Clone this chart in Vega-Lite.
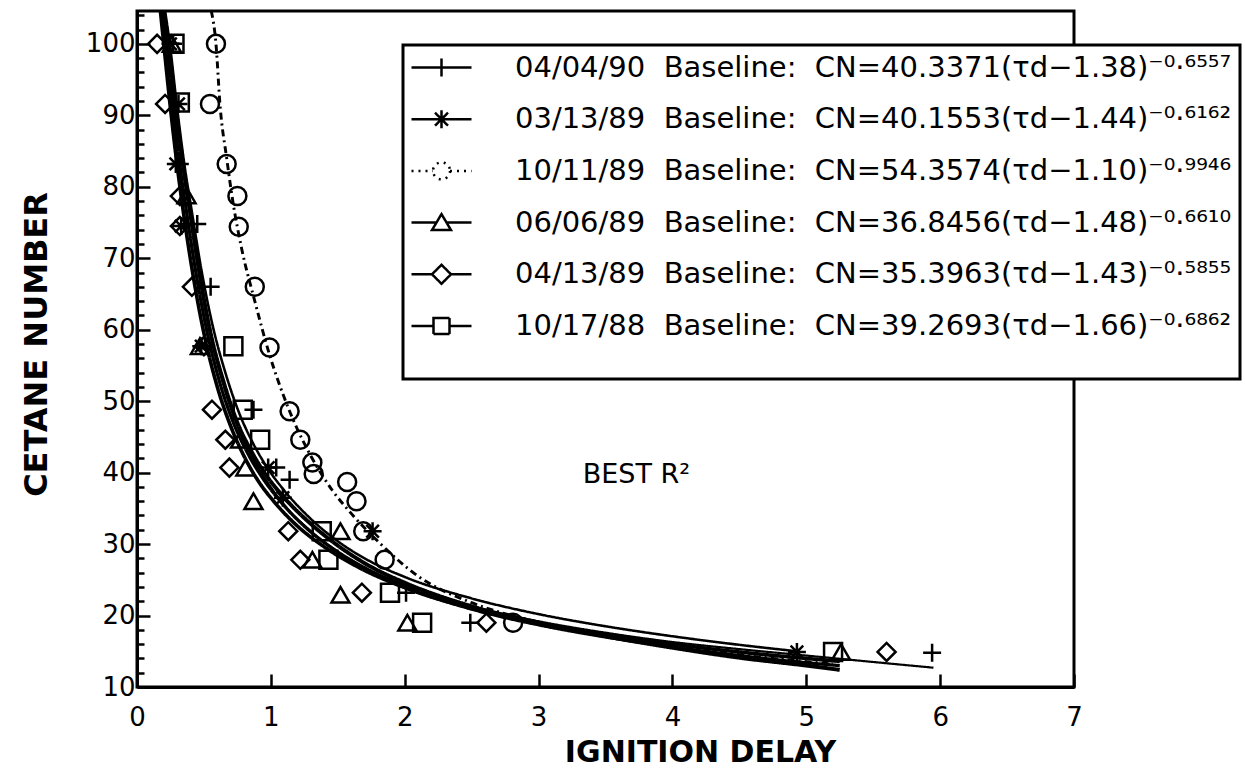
{
  "$schema": "https://vega.github.io/schema/vega-lite/v6.json",
  "autosize": {"type": "none"},
  "padding": {"left": 137, "top": 11, "right": 171, "bottom": 83},
  "width": 937,
  "height": 676,
  "background": "white",
  "datasets": {
    "curves": [
      {"series": "04/04/90", "x": 0.20, "y": 104.6}, {"series": "04/04/90", "x": 0.23, "y": 100}, {"series": "04/04/90", "x": 0.29, "y": 91}, {"series": "04/04/90", "x": 0.34, "y": 83}, {"series": "04/04/90", "x": 0.40, "y": 76}, {"series": "04/04/90", "x": 0.47, "y": 67.5}, {"series": "04/04/90", "x": 0.55, "y": 59.5}, {"series": "04/04/90", "x": 0.65, "y": 52}, {"series": "04/04/90", "x": 0.75, "y": 46.5}, {"series": "04/04/90", "x": 0.86, "y": 42.2}, {"series": "04/04/90", "x": 0.97, "y": 38.8}, {"series": "04/04/90", "x": 1.1, "y": 35.5}, {"series": "04/04/90", "x": 1.3, "y": 31.8}, {"series": "04/04/90", "x": 1.5, "y": 29}, {"series": "04/04/90", "x": 1.75, "y": 26.3}, {"series": "04/04/90", "x": 2.0, "y": 24.3}, {"series": "04/04/90", "x": 2.5, "y": 21.3}, {"series": "04/04/90", "x": 3.0, "y": 19.2}, {"series": "04/04/90", "x": 3.5, "y": 17.6}, {"series": "04/04/90", "x": 4.0, "y": 16.3}, {"series": "04/04/90", "x": 4.5, "y": 15.3}, {"series": "04/04/90", "x": 5.0, "y": 14.4}, {"series": "04/04/90", "x": 5.5, "y": 13.5}, {"series": "04/04/90", "x": 5.95, "y": 12.7},
      {"series": "03/13/89", "x": 0.21, "y": 104.6}, {"series": "03/13/89", "x": 0.245, "y": 100}, {"series": "03/13/89", "x": 0.30, "y": 91}, {"series": "03/13/89", "x": 0.355, "y": 83}, {"series": "03/13/89", "x": 0.41, "y": 76.5}, {"series": "03/13/89", "x": 0.48, "y": 68.5}, {"series": "03/13/89", "x": 0.56, "y": 61}, {"series": "03/13/89", "x": 0.66, "y": 54}, {"series": "03/13/89", "x": 0.76, "y": 48.5}, {"series": "03/13/89", "x": 0.87, "y": 44}, {"series": "03/13/89", "x": 0.98, "y": 40.5}, {"series": "03/13/89", "x": 1.1, "y": 37.5}, {"series": "03/13/89", "x": 1.3, "y": 33.5}, {"series": "03/13/89", "x": 1.5, "y": 30.4}, {"series": "03/13/89", "x": 1.75, "y": 27.5}, {"series": "03/13/89", "x": 2.0, "y": 25.4}, {"series": "03/13/89", "x": 2.5, "y": 22.4}, {"series": "03/13/89", "x": 3.0, "y": 20.2}, {"series": "03/13/89", "x": 3.5, "y": 18.5}, {"series": "03/13/89", "x": 4.0, "y": 17.1}, {"series": "03/13/89", "x": 4.5, "y": 15.9}, {"series": "03/13/89", "x": 4.93, "y": 15.0},
      {"series": "10/11/89", "x": 0.555, "y": 104.6}, {"series": "10/11/89", "x": 0.59, "y": 100}, {"series": "10/11/89", "x": 0.62, "y": 91.5}, {"series": "10/11/89", "x": 0.67, "y": 84}, {"series": "10/11/89", "x": 0.72, "y": 77.5}, {"series": "10/11/89", "x": 0.78, "y": 71.5}, {"series": "10/11/89", "x": 0.88, "y": 64}, {"series": "10/11/89", "x": 0.99, "y": 56.5}, {"series": "10/11/89", "x": 1.1, "y": 50.5}, {"series": "10/11/89", "x": 1.2, "y": 46}, {"series": "10/11/89", "x": 1.3, "y": 42.3}, {"series": "10/11/89", "x": 1.46, "y": 37.5}, {"series": "10/11/89", "x": 1.6, "y": 34.3}, {"series": "10/11/89", "x": 1.81, "y": 30.2}, {"series": "10/11/89", "x": 2.1, "y": 25.5}, {"series": "10/11/89", "x": 2.5, "y": 21.8}, {"series": "10/11/89", "x": 2.9, "y": 19.5}, {"series": "10/11/89", "x": 3.5, "y": 17.2}, {"series": "10/11/89", "x": 4.2, "y": 15.2}, {"series": "10/11/89", "x": 5.2, "y": 13.2},
      {"series": "06/06/89", "x": 0.19, "y": 104.6}, {"series": "06/06/89", "x": 0.22, "y": 100}, {"series": "06/06/89", "x": 0.27, "y": 91}, {"series": "06/06/89", "x": 0.32, "y": 83}, {"series": "06/06/89", "x": 0.37, "y": 76.5}, {"series": "06/06/89", "x": 0.44, "y": 68}, {"series": "06/06/89", "x": 0.52, "y": 60}, {"series": "06/06/89", "x": 0.62, "y": 52.5}, {"series": "06/06/89", "x": 0.72, "y": 47}, {"series": "06/06/89", "x": 0.83, "y": 42.6}, {"series": "06/06/89", "x": 0.94, "y": 39.2}, {"series": "06/06/89", "x": 1.07, "y": 36}, {"series": "06/06/89", "x": 1.25, "y": 32.5}, {"series": "06/06/89", "x": 1.45, "y": 29.5}, {"series": "06/06/89", "x": 1.7, "y": 26.6}, {"series": "06/06/89", "x": 2.0, "y": 24}, {"series": "06/06/89", "x": 2.5, "y": 20.9}, {"series": "06/06/89", "x": 3.0, "y": 18.7}, {"series": "06/06/89", "x": 3.5, "y": 17}, {"series": "06/06/89", "x": 4.0, "y": 15.6}, {"series": "06/06/89", "x": 4.5, "y": 14.4}, {"series": "06/06/89", "x": 5.0, "y": 13.4}, {"series": "06/06/89", "x": 5.25, "y": 13.0},
      {"series": "04/13/89", "x": 0.175, "y": 104.6}, {"series": "04/13/89", "x": 0.2, "y": 100}, {"series": "04/13/89", "x": 0.25, "y": 91}, {"series": "04/13/89", "x": 0.3, "y": 83}, {"series": "04/13/89", "x": 0.35, "y": 76}, {"series": "04/13/89", "x": 0.42, "y": 67.5}, {"series": "04/13/89", "x": 0.5, "y": 59.5}, {"series": "04/13/89", "x": 0.6, "y": 52}, {"series": "04/13/89", "x": 0.7, "y": 46.5}, {"series": "04/13/89", "x": 0.8, "y": 42.3}, {"series": "04/13/89", "x": 0.9, "y": 39}, {"series": "04/13/89", "x": 1.03, "y": 35.8}, {"series": "04/13/89", "x": 1.2, "y": 32.5}, {"series": "04/13/89", "x": 1.4, "y": 29.6}, {"series": "04/13/89", "x": 1.65, "y": 26.8}, {"series": "04/13/89", "x": 2.0, "y": 23.9}, {"series": "04/13/89", "x": 2.5, "y": 21}, {"series": "04/13/89", "x": 3.0, "y": 18.9}, {"series": "04/13/89", "x": 3.5, "y": 17.3}, {"series": "04/13/89", "x": 4.0, "y": 16}, {"series": "04/13/89", "x": 4.5, "y": 14.9}, {"series": "04/13/89", "x": 5.0, "y": 14}, {"series": "04/13/89", "x": 5.25, "y": 13.6},
      {"series": "10/17/88", "x": 0.2, "y": 104.6}, {"series": "10/17/88", "x": 0.235, "y": 100}, {"series": "10/17/88", "x": 0.29, "y": 91}, {"series": "10/17/88", "x": 0.345, "y": 83}, {"series": "10/17/88", "x": 0.4, "y": 76}, {"series": "10/17/88", "x": 0.47, "y": 67.5}, {"series": "10/17/88", "x": 0.55, "y": 59.5}, {"series": "10/17/88", "x": 0.65, "y": 52.5}, {"series": "10/17/88", "x": 0.75, "y": 47}, {"series": "10/17/88", "x": 0.86, "y": 42.8}, {"series": "10/17/88", "x": 0.97, "y": 39.5}, {"series": "10/17/88", "x": 1.1, "y": 36.5}, {"series": "10/17/88", "x": 1.3, "y": 32.8}, {"series": "10/17/88", "x": 1.5, "y": 29.8}, {"series": "10/17/88", "x": 1.75, "y": 26.8}, {"series": "10/17/88", "x": 2.0, "y": 24.6}, {"series": "10/17/88", "x": 2.5, "y": 21.3}, {"series": "10/17/88", "x": 3.0, "y": 19}, {"series": "10/17/88", "x": 3.5, "y": 17.1}, {"series": "10/17/88", "x": 4.0, "y": 15.5}, {"series": "10/17/88", "x": 4.5, "y": 14.1}, {"series": "10/17/88", "x": 5.0, "y": 13}, {"series": "10/17/88", "x": 5.25, "y": 12.4}
    ],
    "points": [
      {"series": "04/04/90", "x": 0.27, "y": 100}, {"series": "04/04/90", "x": 0.32, "y": 83.2}, {"series": "04/04/90", "x": 0.45, "y": 74.8}, {"series": "04/04/90", "x": 0.55, "y": 66}, {"series": "04/04/90", "x": 0.87, "y": 48.8}, {"series": "04/04/90", "x": 1.04, "y": 40.7}, {"series": "04/04/90", "x": 1.14, "y": 39}, {"series": "04/04/90", "x": 2.01, "y": 23.2}, {"series": "04/04/90", "x": 2.49, "y": 19}, {"series": "04/04/90", "x": 5.94, "y": 14.8},
      {"series": "03/13/89", "x": 0.25, "y": 100}, {"series": "03/13/89", "x": 0.31, "y": 91.6}, {"series": "03/13/89", "x": 0.29, "y": 83.2}, {"series": "03/13/89", "x": 0.33, "y": 74.5}, {"series": "03/13/89", "x": 0.48, "y": 57.7}, {"series": "03/13/89", "x": 0.98, "y": 40.7}, {"series": "03/13/89", "x": 1.09, "y": 36.5}, {"series": "03/13/89", "x": 1.76, "y": 31.8}, {"series": "03/13/89", "x": 4.93, "y": 14.9},
      {"series": "10/11/89", "x": 0.59, "y": 100}, {"series": "10/11/89", "x": 0.545, "y": 91.6}, {"series": "10/11/89", "x": 0.67, "y": 83.2}, {"series": "10/11/89", "x": 0.75, "y": 78.7}, {"series": "10/11/89", "x": 0.76, "y": 74.4}, {"series": "10/11/89", "x": 0.88, "y": 66}, {"series": "10/11/89", "x": 0.99, "y": 57.5}, {"series": "10/11/89", "x": 1.14, "y": 48.6}, {"series": "10/11/89", "x": 1.22, "y": 44.6}, {"series": "10/11/89", "x": 1.31, "y": 41.4}, {"series": "10/11/89", "x": 1.32, "y": 39.8}, {"series": "10/11/89", "x": 1.57, "y": 38.7}, {"series": "10/11/89", "x": 1.64, "y": 36}, {"series": "10/11/89", "x": 1.69, "y": 31.8}, {"series": "10/11/89", "x": 1.85, "y": 27.8}, {"series": "10/11/89", "x": 2.81, "y": 19},
      {"series": "06/06/89", "x": 0.26, "y": 100}, {"series": "06/06/89", "x": 0.37, "y": 78.8}, {"series": "06/06/89", "x": 0.47, "y": 57.7}, {"series": "06/06/89", "x": 0.77, "y": 44.6}, {"series": "06/06/89", "x": 0.81, "y": 40.7}, {"series": "06/06/89", "x": 0.87, "y": 36}, {"series": "06/06/89", "x": 1.52, "y": 31.8}, {"series": "06/06/89", "x": 1.31, "y": 27.8}, {"series": "06/06/89", "x": 1.52, "y": 22.9}, {"series": "06/06/89", "x": 2.02, "y": 19}, {"series": "06/06/89", "x": 5.26, "y": 14.9},
      {"series": "04/13/89", "x": 0.15, "y": 100}, {"series": "04/13/89", "x": 0.21, "y": 91.6}, {"series": "04/13/89", "x": 0.32, "y": 78.7}, {"series": "04/13/89", "x": 0.32, "y": 74.5}, {"series": "04/13/89", "x": 0.41, "y": 66}, {"series": "04/13/89", "x": 0.5, "y": 57.7}, {"series": "04/13/89", "x": 0.56, "y": 48.8}, {"series": "04/13/89", "x": 0.66, "y": 44.6}, {"series": "04/13/89", "x": 0.69, "y": 40.7}, {"series": "04/13/89", "x": 1.13, "y": 31.8}, {"series": "04/13/89", "x": 1.22, "y": 27.8}, {"series": "04/13/89", "x": 1.68, "y": 23.2}, {"series": "04/13/89", "x": 2.61, "y": 19}, {"series": "04/13/89", "x": 5.6, "y": 14.9},
      {"series": "10/17/88", "x": 0.28, "y": 100}, {"series": "10/17/88", "x": 0.32, "y": 91.8}, {"series": "10/17/88", "x": 0.72, "y": 57.7}, {"series": "10/17/88", "x": 0.79, "y": 48.8}, {"series": "10/17/88", "x": 0.92, "y": 44.6}, {"series": "10/17/88", "x": 1.38, "y": 31.8}, {"series": "10/17/88", "x": 1.43, "y": 27.8}, {"series": "10/17/88", "x": 1.89, "y": 23.2}, {"series": "10/17/88", "x": 2.13, "y": 19}, {"series": "10/17/88", "x": 5.2, "y": 14.9}
    ],
    "legendrows": [
      {"label": "04/04/90 \u00a0Baseline: \u00a0CN=40.3371(τd−1.38)⁻⁰·⁶⁵⁵⁷"},
      {"label": "03/13/89 \u00a0Baseline: \u00a0CN=40.1553(τd−1.44)⁻⁰·⁶¹⁶²"},
      {"label": "10/11/89 \u00a0Baseline: \u00a0CN=54.3574(τd−1.10)⁻⁰·⁹⁹⁴⁶"},
      {"label": "06/06/89 \u00a0Baseline: \u00a0CN=36.8456(τd−1.48)⁻⁰·⁶⁶¹⁰"},
      {"label": "04/13/89 \u00a0Baseline: \u00a0CN=35.3963(τd−1.43)⁻⁰·⁵⁸⁵⁵"},
      {"label": "10/17/88 \u00a0Baseline: \u00a0CN=39.2693(τd−1.66)⁻⁰·⁶⁸⁶²"}
    ]
  },
  "layer": [
    {
      "data": {"name": "curves"},
      "mark": {"type": "line", "interpolate": "monotone", "color": "black", "clip": true},
      "encoding": {
        "x": {"field": "x", "type": "quantitative", "scale": {"domain": [0, 7], "nice": false, "zero": false},
          "axis": {"values": [0, 0.5, 1, 1.5, 2, 2.5, 3, 3.5, 4, 4.5, 5, 5.5, 6, 6.5, 7], "tickCount": 100, "format": "d",
            "tickSize": {"condition": {"test": "datum.value % 1 === 0", "value": -13}, "value": -7},
            "labelExpr": "datum.value % 1 === 0 ? datum.label : ''",
            "labelOverlap": false, "labelFlush": false, "labelPadding": 30,
            "title": "IGNITION DELAY", "titleX": 563, "titleY": 74, "titleBaseline": "alphabetic", "titleAlign": "center"}},
        "y": {"field": "y", "type": "quantitative", "scale": {"domain": [10, 104.6], "nice": false, "zero": false},
          "axis": {"values": [10, 12, 14, 16, 18, 20, 22, 24, 26, 28, 30, 32, 34, 36, 38, 40, 42, 44, 46, 48, 50, 52, 54, 56, 58, 60, 62, 64, 66, 68, 70, 72, 74, 76, 78, 80, 82, 84, 86, 88, 90, 92, 94, 96, 98, 100, 102, 104], "tickCount": 100, "format": "d",
            "tickSize": {"condition": {"test": "datum.value % 10 === 0", "value": -13}, "value": -7},
            "labelExpr": "datum.value % 10 === 0 ? datum.label : ''",
            "labelOverlap": false, "labelFlush": false, "labelPadding": 15,
            "title": "CETANE NUMBER", "titleFontSize": 32, "titleX": -91, "titleY": 333, "titleBaseline": "alphabetic", "titleAlign": "center", "titleAngle": -90}},
        "strokeDash": {"field": "series", "type": "nominal",
          "scale": {"domain": ["04/04/90", "03/13/89", "10/11/89", "06/06/89", "04/13/89", "10/17/88"], "range": [[1, 0], [1, 0], [7, 4, 2, 4], [1, 0], [1, 0], [1, 0]]}, "legend": null},
        "strokeWidth": {"field": "series", "type": "nominal",
          "scale": {"domain": ["04/04/90", "03/13/89", "10/11/89", "06/06/89", "04/13/89", "10/17/88"], "range": [2.2, 4, 1.6, 2.2, 2, 3]}, "legend": null}
      }
    },
    {
      "data": {"name": "points"},
      "mark": {"type": "point", "filled": false, "color": "black", "strokeWidth": 2.5, "size": 324, "opacity": 1, "clip": true},
      "encoding": {
        "x": {"field": "x", "type": "quantitative"},
        "y": {"field": "y", "type": "quantitative"},
        "shape": {"field": "series", "type": "nominal",
          "scale": {"domain": ["04/04/90", "03/13/89", "10/11/89", "06/06/89", "04/13/89", "10/17/88"],
            "range": ["M-1,0H1M0,-1V1", "M-1,0H1M0,-1V1M-0.7,-0.7L0.7,0.7M-0.7,0.7L0.7,-0.7", "circle", "triangle-up", "diamond", "square"]},
          "legend": null}
      }
    },
    {
      "data": {"values": [{"label": "BEST R²"}]},
      "mark": {"type": "text", "font": "DejaVu Sans", "fontSize": 27, "color": "black", "align": "left", "baseline": "alphabetic"},
      "encoding": {
        "x": {"datum": 3.33, "type": "quantitative"},
        "y": {"datum": 38.5, "type": "quantitative"},
        "text": {"field": "label"}
      }
    },
    {
      "data": {"name": "legendrows"},
      "transform": [{"filter": "false"}],
      "mark": {"type": "point", "filled": false, "color": "black", "opacity": 1},
      "encoding": {
        "shape": {"field": "label", "type": "nominal",
          "scale": {"domain": [
            "04/04/90 \u00a0Baseline: \u00a0CN=40.3371(τd−1.38)⁻⁰·⁶⁵⁵⁷",
            "03/13/89 \u00a0Baseline: \u00a0CN=40.1553(τd−1.44)⁻⁰·⁶¹⁶²",
            "10/11/89 \u00a0Baseline: \u00a0CN=54.3574(τd−1.10)⁻⁰·⁹⁹⁴⁶",
            "06/06/89 \u00a0Baseline: \u00a0CN=36.8456(τd−1.48)⁻⁰·⁶⁶¹⁰",
            "04/13/89 \u00a0Baseline: \u00a0CN=35.3963(τd−1.43)⁻⁰·⁵⁸⁵⁵",
            "10/17/88 \u00a0Baseline: \u00a0CN=39.2693(τd−1.66)⁻⁰·⁶⁸⁶²"],
            "range": [
              "M-3,0H3M0,-0.9V0.9",
              "M-3,0H3M0,-0.9V0.9M-0.65,-0.65L0.65,0.65M-0.65,0.65L0.65,-0.65",
              "M-3,0H-0.85M0.85,0H3M0.85,0A0.85,0.85,0,1,1,-0.85,0A0.85,0.85,0,1,1,0.85,0",
              "M-3,0H-0.5M0.5,0H3M0,-0.85L0.95,0.75H-0.95Z",
              "M-3,0H-0.95M0.95,0H3M-0.95,0L0,-0.95L0.95,0L0,0.95Z",
              "M-3,0H-0.8M0.8,0H3M-0.8,-0.8H0.8V0.8H-0.8Z"]},
          "legend": {"orient": "none", "legendX": 266, "legendY": 34, "title": " ", "titleOrient": "bottom"}},
        "strokeDash": {"field": "label", "type": "nominal",
          "scale": {"domain": [
            "04/04/90 \u00a0Baseline: \u00a0CN=40.3371(τd−1.38)⁻⁰·⁶⁵⁵⁷",
            "03/13/89 \u00a0Baseline: \u00a0CN=40.1553(τd−1.44)⁻⁰·⁶¹⁶²",
            "10/11/89 \u00a0Baseline: \u00a0CN=54.3574(τd−1.10)⁻⁰·⁹⁹⁴⁶",
            "06/06/89 \u00a0Baseline: \u00a0CN=36.8456(τd−1.48)⁻⁰·⁶⁶¹⁰",
            "04/13/89 \u00a0Baseline: \u00a0CN=35.3963(τd−1.43)⁻⁰·⁵⁸⁵⁵",
            "10/17/88 \u00a0Baseline: \u00a0CN=39.2693(τd−1.66)⁻⁰·⁶⁸⁶²"],
            "range": [[1, 0], [1, 0], [2, 5], [1, 0], [1, 0], [1, 0]]},
          "legend": {"orient": "none", "legendX": 266, "legendY": 34, "title": " ", "titleOrient": "bottom"}}
      }
    }
  ],
  "resolve": {"scale": {"shape": "independent", "strokeDash": "independent"}},
  "config": {
    "font": "DejaVu Sans",
    "view": {"stroke": "black", "strokeWidth": 3},
    "axis": {"domainColor": "black", "domainWidth": 3, "tickColor": "black", "tickWidth": 2.5, "grid": false,
      "labelColor": "black", "labelFont": "DejaVu Sans", "labelFontSize": 26,
      "titleColor": "black", "titleFont": "DejaVu Sans", "titleFontSize": 30, "titleFontWeight": "bold"},
    "legend": {"padding": 8, "strokeColor": "black", "strokeWidth": 3, "fillColor": "white",
      "labelFont": "DejaVu Sans", "labelFontSize": 29, "labelColor": "black", "labelLimit": 0, "labelOffset": 59,
      "symbolSize": 400, "symbolStrokeWidth": 2.5, "symbolStrokeColor": "black", "symbolFillColor": "transparent", "symbolOffset": 16,
      "rowPadding": 21.7, "titleFontSize": 20, "titlePadding": 10}
  }
}
